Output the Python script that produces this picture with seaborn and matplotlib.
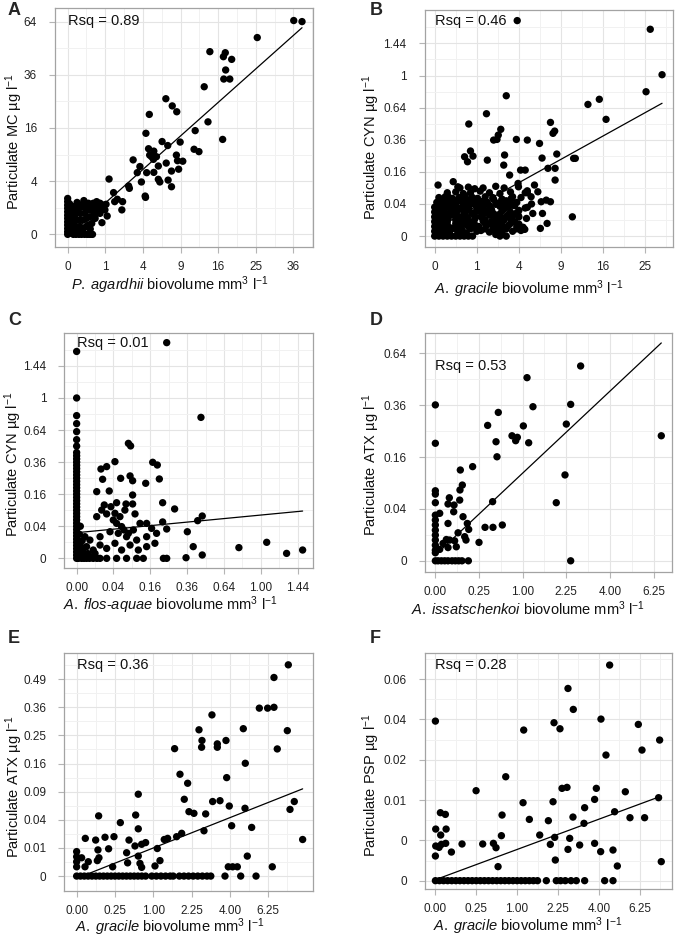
import numpy as np
import pandas as pd
import matplotlib
matplotlib.use("Agg")
import matplotlib.pyplot as plt
import seaborn as sns

sns.set_style("white")
plt.rcParams["font.family"] = ["Liberation Sans", "DejaVu Sans"]
plt.rcParams["mathtext.fontset"] = "custom"
plt.rcParams["mathtext.rm"] = "Liberation Sans"
plt.rcParams["mathtext.it"] = "Liberation Sans:italic"

# all values are square-root transformed, as plotted; tick labels show raw units

# Panel A: P. agardhii biovolume vs particulate MC
a_x = [6.01, 6.23, 5.04, 3.78, 4.14, 4.19, 4.36, 4.20, 4.15, 4.31, 3.63, 2.61, 2.78, 2.90, 2.17,
       3.73, 3.39, 4.12, 2.08, 2.51, 2.66, 2.99, 3.36, 3.49, 2.15, 2.29, 2.18, 2.23, 2.28, 2.36,
       2.41, 2.89, 2.92, 3.06, 2.95, 2.62, 2.76, 2.67, 2.76, 2.10, 2.29, 1.74, 1.92, 1.85, 1.96,
       2.41, 2.45, 2.06, 2.07, 1.62, 1.64, 1.10, 1.22, 1.32, 1.25, 1.46, 1.44, 0.90, 0.99, 0.86,
       1.05, 0.91, 0.43,
       0, 0, 0, 0, 0, 0, 0, 0, 0, 0, 0, 0, 0.05, 0.06, 0.05, 0.07,
       0.11, 0.13, 0.09, 0.15, 0.12, 0.14, 0.19, 0.24, 0.28, 0.22, 0.20, 0.26, 0.18,
       0.33, 0.37, 0.32, 0.35, 0.30, 0.42, 0.46, 0.49, 0.52, 0.40, 0.45, 0.50,
       0.58, 0.59, 0.59, 0.64, 0.66, 0.55, 0.60, 0.55,
       0.68, 0.70, 0.73, 0.77, 0.80, 0.81, 0.86, 0.86, 0.95, 1.02, 0.77, 0.62, 0.57, 0.45, 0.30,
       0.10, 0.25, 0.38, 0.70]
a_y = [8.04, 8.00, 7.40, 6.87, 6.68, 6.83, 6.58, 6.18, 5.84, 5.84, 5.55, 5.10, 4.83, 4.61, 4.51,
       4.23, 3.90, 3.57, 3.80, 3.49, 3.34, 3.47, 3.20, 3.11, 3.22, 3.13, 2.98, 2.92, 2.82, 2.92,
       2.57, 2.98, 2.77, 2.75, 2.45, 2.68, 2.38, 2.04, 1.79, 2.32, 2.33, 2.80, 2.55, 2.32, 1.97,
       2.07, 1.97, 1.44, 1.39, 1.82, 1.73, 2.08, 1.57, 1.32, 1.23, 1.23, 0.92, 1.04, 0.92, 0.79,
       0.69, 0.44, 1.27,
       1.35, 1.23, 1.10, 0.98, 0.85, 0.72, 0.60, 0.47, 0.35, 0.22, 0.10, 0, 1.15, 0.80, 0.40, 0.05,
       0.92, 0.66, 0.41, 0, 1.05, 0.20, 1.04, 0.54, 0.16, 0, 0.75, 0.90, 0.35,
       0.79, 0, 0.30, 0.55, 1.00, 0.54, 0.79, 0.29, 0, 0.15, 1.00, 0.60,
       1.04, 0.66, 0.92, 0.41, 0, 1.17, 0.20, 0.35,
       1.17, 0.79, 0.60, 1.23, 0.98, 1.17, 1.17, 0.98, 1.10, 1.13, 0.79, 0, 0, 0, 0,
       0.55, 1.20, 1.12, 0.95]
a_fit = [-0.08, 1.26]  # intercept, slope
a_rsq = "0.89"

# Panel B: A. gracile biovolume vs particulate CYN
b_x = [1.96, 5.12, 5.40, 5.02, 3.91, 3.64, 4.07, 1.70, 1.23, 0.81, 2.75, 2.85, 2.81, 1.57, 1.51,
       1.48, 1.40, 1.94, 2.20, 2.49, 2.90, 2.55, 3.30, 3.34, 2.69, 2.86, 2.86, 0.91, 0.85, 0.71,
       0.78, 1.25, 1.66, 1.64, 2.04, 2.15, 2.37, 1.98, 1.78, 1.99, 2.20, 2.15, 1.82, 1.70, 2.53,
       2.56, 2.75, 2.51, 2.67, 3.27, 2.20, 2.14, 1.70, 0.08, 0.44, 0.32, 0.55, 2.29, 2.45, 2.65,
       2.33, 2.18,
       0, 0.1, 0.2, 0.3, 0.4, 0.5, 0.6, 0.7, 0.8, 0.9, 1.45, 1.55,
       0, 0.07, 0.15, 0.25, 0.35, 0.55, 0.75, 1.0, 1.1, 1.3, 1.45, 1.6, 1.85, 2.05,
       0, 0.05, 0.12, 0.22, 0.4, 0.6, 0.8, 0.9, 1.05, 1.25, 1.4, 1.55, 1.75, 1.95, 2.1,
       0, 0.1, 0.2, 0.3, 0.5, 0.7, 0.85, 1.15, 1.35, 1.5, 1.65, 1.9,
       0, 0.06, 0.18, 0.28, 0.45, 0.62, 0.78, 0.95, 1.1, 1.3, 1.45, 1.7, 1.85, 2.0,
       0, 0.1, 0.25, 0.38, 0.55, 0.7, 0.88, 1.05, 1.2, 1.4, 1.6, 1.8, 1.95,
       0, 0.08, 0.2, 0.35, 0.5, 0.65, 0.8, 1.0, 1.15, 1.3, 1.55, 1.75, 1.9, 2.15,
       0.05, 0.15, 0.3, 0.45, 0.6, 0.75, 0.92, 1.1, 1.25, 1.5, 1.7, 1.95, 2.3,
       0.1, 0.25, 0.42, 0.58, 0.72, 0.9, 1.02, 1.2, 1.38, 1.6, 1.85, 2.05,
       0.3, 0.5, 0.68, 0.85, 1.08, 1.3, 1.55, 1.8, 2.2,
       0.6, 0.8, 0.95, 1.15, 1.45, 1.65,
       0.03, 0.18, 0.33, 0.48, 0.65, 0.85, 1.2, 1.38, 1.7, 1.95,
       0.02, 0.14, 0.32, 0.6, 0.95, 1.2, 1.6, 1.8,
       0.04, 0.22, 0.45, 0.8, 1.0, 1.35, 1.65, 2.0,
       0.12, 0.3, 0.5, 0.7, 0.95, 1.2, 1.4, 1.6, 1.8, 2.0,
       0.15, 0.35, 0.52, 0.72, 0.9, 1.15, 1.35, 1.55, 1.75, 1.98,
       0.12, 0.28, 0.48, 0.68, 0.85, 1.05, 1.3, 1.45, 1.65, 1.85,
       0.2, 0.38, 0.52, 0.68, 0.85, 1.0, 1.18, 1.4, 1.6, 1.8]
b_y = [1.342, 1.288, 1.005, 0.899, 0.852, 0.820, 0.727, 0.874, 0.762, 0.698, 0.708, 0.654, 0.640,
       0.665, 0.629, 0.602, 0.598, 0.602, 0.598, 0.577, 0.511, 0.486, 0.484, 0.484, 0.422, 0.422,
       0.349, 0.498, 0.530, 0.494, 0.463, 0.473, 0.505, 0.442, 0.411, 0.411, 0.318, 0.328, 0.380,
       0.307, 0.282, 0.270, 0.235, 0.204, 0.214, 0.141, 0.214, 0.048, 0.079, 0.120, 0.179, 0.042,
       0, 0.318, 0.339, 0.245, 0.307, 0.245, 0.276, 0.224, 0.141, 0.110,
       0, 0, 0, 0, 0, 0, 0, 0, 0, 0, 0.01, 0.0,
       0.03, 0.02, 0.035, 0.03, 0.025, 0.03, 0.02, 0.03, 0.035, 0.025, 0.03, 0.02, 0.03, 0.035,
       0.06, 0.055, 0.065, 0.06, 0.05, 0.065, 0.06, 0.055, 0.06, 0.07, 0.06, 0.05, 0.065, 0.06, 0.055,
       0.09, 0.095, 0.085, 0.09, 0.1, 0.09, 0.085, 0.095, 0.09, 0.085, 0.1, 0.09,
       0.12, 0.125, 0.115, 0.12, 0.13, 0.12, 0.115, 0.125, 0.12, 0.13, 0.115, 0.12, 0.125, 0.12,
       0.15, 0.155, 0.145, 0.15, 0.16, 0.15, 0.145, 0.155, 0.15, 0.14, 0.155, 0.15, 0.145,
       0.18, 0.175, 0.185, 0.18, 0.19, 0.18, 0.175, 0.185, 0.18, 0.17, 0.185, 0.18, 0.19, 0.175,
       0.21, 0.215, 0.205, 0.21, 0.22, 0.21, 0.2, 0.215, 0.21, 0.205, 0.22, 0.21, 0.2,
       0.24, 0.245, 0.235, 0.24, 0.25, 0.24, 0.235, 0.245, 0.24, 0.23, 0.245, 0.24,
       0.27, 0.275, 0.265, 0.27, 0.28, 0.27, 0.265, 0.275, 0.27,
       0.3, 0.305, 0.295, 0.3, 0.31, 0.3,
       0.045, 0.045, 0.04, 0.045, 0.04, 0.045, 0.045, 0.04, 0.045, 0.045,
       0.105, 0.105, 0.11, 0.105, 0.105, 0.1, 0.105, 0.11,
       0.165, 0.165, 0.17, 0.165, 0.165, 0.165, 0.17, 0.16,
       0.075, 0.07, 0.078, 0.075, 0.072, 0.078, 0.075, 0.07, 0.078, 0.075,
       0.135, 0.138, 0.132, 0.135, 0.14, 0.135, 0.13, 0.138, 0.135, 0.132,
       0.195, 0.198, 0.192, 0.195, 0.2, 0.195, 0.19, 0.198, 0.195, 0.192,
       0.225, 0.228, 0.222, 0.225, 0.23, 0.225, 0.22, 0.228, 0.225, 0.222]
b_fit = [0.042, 0.1454]
b_rsq = "0.46"

# Panel C: A. flos-aquae biovolume vs particulate CYN
c_x = [0, 0, 0, 0, 0, 0, 0, 0, 0, 0, 0, 0, 0, 0, 0, 0, 0, 0, 0, 0, 0,
       0, 0, 0, 0, 0, 0, 0, 0, 0, 0, 0, 0, 0, 0, 0, 0, 0, 0, 0, 0,
       0.489, 0.675, 0.281, 0.293, 0.208, 0.163, 0.132, 0.413, 0.438, 0.375, 0.449, 0.239, 0.290,
       0.304, 0.141, 0.109, 0.177, 0.217, 0.268, 0.304, 0.150, 0.186, 0.304, 0.467, 0.532, 0.682,
       0.657, 0.467, 0.489, 0.601, 0.633, 0.682, 0.881, 1.032, 1.140, 1.227, 0.594,
       0.027, 0.054, 0.090, 0.127, 0.163, 0.217, 0.271, 0.326, 0.362, 0.471, 0.489,
       0.01, 0.04, 0.07, 0.11,
       0.109, 0.136, 0.163, 0.208, 0.235, 0.262, 0.317, 0.344, 0.380, 0.407, 0.434, 0.380, 0.326,
       0.271, 0.226, 0.181, 0.127, 0.072, 0.054, 0.090, 0.127, 0.163, 0.208, 0.244, 0.290, 0.335,
       0.380, 0.425, 0.045, 0.033, 0.036, 0.199, 0.217, 0.244, 0.257, 0.281, 0.308,
       0.015, 0.02, 0.03, 0.015, 0.06, 0.08, 0.1, 0.02]
c_y = [0, 0.02, 0.04, 0.06, 0.08, 0.10, 0.12, 0.14, 0.16, 0.18, 0.20, 0.22, 0.24, 0.26, 0.28,
       0.30, 0.32, 0.34, 0.36, 0.38, 0.40, 0.42, 0.44, 0.46, 0.48, 0.50, 0.52, 0.54, 0.56, 0.58,
       0.60, 0.62, 0.64, 0.66, 0.70, 0.74, 0.79, 0.84, 0.89, 1.00, 1.29,
       1.345, 0.879, 0.717, 0.701, 0.603, 0.572, 0.557, 0.599, 0.582, 0.468, 0.495, 0.499, 0.514,
       0.484, 0.493, 0.416, 0.420, 0.347, 0.339, 0.339, 0.333, 0.322, 0.395, 0.347, 0.308, 0.264,
       0.235, 0.227, 0.183, 0.166, 0.073, 0.021, 0.067, 0.100, 0.031, 0.052, 0.004,
       0, 0, 0, 0, 0, 0, 0, 0, 0, 0, 0,
       0, 0, 0, 0,
       0.260, 0.301, 0.277, 0.281, 0.260, 0.301, 0.277, 0.218, 0.218, 0.187, 0.156, 0.135, 0.114,
       0.135, 0.156, 0.166, 0.135, 0.114, 0.073, 0.052, 0.083, 0.062, 0.094, 0.052, 0.083, 0.052,
       0.073, 0.094, 0.135, 0.052, 0.021, 0.239, 0.218, 0.198, 0.177, 0.156, 0.177,
       0.03, 0.08, 0.11, 0.15, 0.03, 0.01, 0.03, 0.2]
c_fit = [0.16, 0.110]
c_rsq = "0.01"

# Panel D: A. issatschenkoi biovolume vs particulate ATX
d_x = [0, 0, 1.664, 1.050, 1.118, 1.550, 0.721, 0.599, 1.008, 1.500, 0.878, 0.939, 0.920, 0.695,
       1.069, 0.706, 2.588, 0.427, 0.286, 1.485, 0.309, 0.282, 0, 0, 0, 0.160, 0.145, 0.214,
       0.656, 1.385, 0.279, 0.210, 0.050, 0.317, 0, 0, 0, 0, 0, 0, 0, 0, 0,
       0.145, 0.366, 0.382, 0.569, 0.660, 0.767, 0.260, 0.336, 0.351, 0.126, 0.164, 0.221, 0.145,
       0.240, 0.500, 0.088, 0.050,
       0, 0.031, 0.069, 0.107, 0.145, 0.191, 0.229, 0.267, 0.305, 0.378, 1.550]
d_y = [0.601, 0.453, 0.751, 0.706, 0.594, 0.603, 0.572, 0.522, 0.520, 0.527, 0.482, 0.476, 0.463,
       0.459, 0.455, 0.401, 0.482, 0.363, 0.350, 0.331, 0.292, 0.273, 0.270, 0.257, 0.224, 0.243,
       0.219, 0.215, 0.228, 0.224, 0.234, 0.189, 0.183, 0.170, 0.176, 0.157, 0.138, 0.118, 0.099,
       0.080, 0.060, 0.041, 0.031,
       0.144, 0.144, 0.121, 0.129, 0.129, 0.138, 0.108, 0.093, 0.080, 0.082, 0.080, 0.077, 0.051,
       0.054, 0.071, 0.067, 0.044,
       0, 0, 0, 0, 0, 0, 0, 0, 0, 0, 0]
d_fit = [0.022, 0.316]
d_rsq = "0.53"

# Panel E: A. gracile biovolume vs particulate ATX
e_x = [2.761, 2.574, 2.491, 2.574, 2.383, 1.765, 1.596, 2.748, 1.635, 1.630, 2.174, 1.835, 1.835,
       1.948, 2.617, 1.278, 2.200, 1.348, 1.957, 1.448, 0.804, 1.404, 1.774, 1.870, 1.991, 2.196,
       2.839, 2.783, 1.465, 1.530, 1.683, 0.770, 0.287, 0.570, 2.022, 2.283, 0.804, 1.661, 1.370,
       1.187, 1.143, 1.304, 0.113, 0.370, 0.248, 0.487, 0.683, 2.948, 0.278, 0.417, 0.652, 0.761,
       0.848, 0.900, 1.052, 0.291, 0.270, 0.470, 0.665, 0.804, 0.826, 0.848, 1.022, 1.087, 2.226,
       1.978, 2.035, 2.096, 2.552, 0.065, 0.152, 0, 0, 0, 0, 0.109,
       0, 0.05, 0.1, 0.15, 0.2, 0.25, 0.3, 0.35, 0.4, 0.45, 0.5, 0.55, 0.6, 0.65, 0.7, 0.75, 0.8,
       0.85, 0.9, 0.98, 1.04, 1.1, 1.16, 1.22, 1.26, 1.34, 1.40, 1.46, 1.52, 1.58, 1.64, 1.70,
       1.75, 1.935, 2.14, 2.34]
e_y = [0.751, 0.706, 0.597, 0.600, 0.597, 0.573, 0.520, 0.517, 0.482, 0.458, 0.524, 0.470, 0.458,
       0.482, 0.452, 0.453, 0.401, 0.362, 0.350, 0.330, 0.291, 0.273, 0.265, 0.268, 0.249, 0.241,
       0.265, 0.237, 0.229, 0.223, 0.221, 0.217, 0.214, 0.190, 0.179, 0.173, 0.168, 0.161, 0.152,
       0.134, 0.130, 0.140, 0.134, 0.138, 0.128, 0.140, 0.128, 0.130, 0.093, 0.097, 0.083, 0.107,
       0.113, 0.119, 0.098, 0.065, 0.055, 0.033, 0.047, 0.071, 0.045, 0.031, 0.036, 0.055, 0.071,
       0.033, 0.033, 0.033, 0.033, 0.065, 0.051, 0.087, 0.069, 0.051, 0.033, 0.033,
       0, 0, 0, 0, 0, 0, 0, 0, 0, 0, 0, 0, 0, 0, 0, 0, 0,
       0, 0, 0, 0, 0, 0, 0, 0, 0, 0, 0, 0, 0, 0, 0,
       0, 0, 0, 0]
e_fit = [-0.008, 0.1079]
e_rsq = "0.36"

# Panel F: A. gracile biovolume vs particulate PSP
f_x = [2.133, 1.623, 1.688, 0, 1.081, 1.452, 1.525, 2.027, 2.484, 2.745, 2.529, 2.088, 0.861,
       0.498, 1.550, 1.611, 1.970, 2.325, 2.732, 1.949, 1.073, 1.440, 0.004, 0.061, 0.122, 0.065,
       0.131, 0.816, 1.150, 1.383, 1.684, 1.819, 2.382, 2.561, 1.277, 0.808, 0.004, 0.045, 0.073,
       0.126, 0.196, 0.326, 0.579, 0.710, 0.742, 0.767, 1.407, 1.460, 1.468, 1.623, 1.644, 1.766,
       1.827, 1.949, 2.023, 2.174, 2.227, 2.194, 2.765, 0,
       0, 0.05, 0.1, 0.15, 0.2, 0.25, 0.3, 0.35, 0.4, 0.45, 0.5, 0.55, 0.6, 0.65, 0.7, 0.75, 0.8,
       0.85, 0.9, 0.95, 1.0, 1.05, 1.1, 1.15, 1.2, 1.25, 1.358, 1.48, 1.533, 1.59, 1.66, 1.725,
       1.827, 2.072, 2.174]
f_y = [0.2674, 0.2384, 0.2124, 0.1979, 0.1868, 0.1959, 0.1884, 0.2004, 0.1938, 0.1744, 0.1620,
       0.1558, 0.1289, 0.1116, 0.1145, 0.1157, 0.1145, 0.1103, 0.1029, 0.1008, 0.0967, 0.0979,
       0.0640, 0.0843, 0.0822, 0.0566, 0.0640, 0.0814, 0.0760, 0.0744, 0.0789, 0.0711, 0.0781,
       0.0781, 0.0566, 0.0558, 0.0430, 0.0413, 0.0450, 0.0463, 0.0355, 0.0455, 0.0455, 0.0463,
       0.0409, 0.0174, 0.0450, 0.0537, 0.0256, 0.0388, 0.0525, 0.0442, 0.0905, 0.0463, 0.0360,
       0.0380, 0.0182, 0.0855, 0.0236, 0.0306,
       0, 0, 0, 0, 0, 0, 0, 0, 0, 0, 0, 0, 0, 0, 0, 0, 0, 0, 0, 0, 0, 0, 0, 0, 0, 0,
       0, 0, 0, 0, 0, 0, 0, 0, 0]
f_fit = [0.0012, 0.0375]
f_rsq = "0.28"

# tick values (raw units) and labels
a_xticks = [0, 1, 4, 9, 16, 25, 36]
a_xlabels = ["0", "1", "4", "9", "16", "25", "36"]
a_yticks = [0, 4, 16, 36, 64]
a_ylabels = ["0", "4", "16", "36", "64"]
b_xticks = [0, 1, 4, 9, 16, 25]
b_xlabels = ["0", "1", "4", "9", "16", "25"]
cyn_yticks = [0, 0.04, 0.16, 0.36, 0.64, 1, 1.44]
cyn_ylabels = ["0", "0.04", "0.16", "0.36", "0.64", "1", "1.44"]
c_xticks = [0, 0.04, 0.16, 0.36, 0.64, 1, 1.44]
c_xlabels = ["0.00", "0.04", "0.16", "0.36", "0.64", "1.00", "1.44"]
bv_xticks = [0, 0.25, 1, 2.25, 4, 6.25]
bv_xlabels = ["0.00", "0.25", "1.00", "2.25", "4.00", "6.25"]
d_yticks = [0, 0.04, 0.16, 0.36, 0.64]
d_ylabels = ["0", "0.04", "0.16", "0.36", "0.64"]
e_yticks = [0, 0.01, 0.04, 0.09, 0.16, 0.25, 0.36, 0.49]
e_ylabels = ["0", "0.01", "0.04", "0.09", "0.16", "0.25", "0.36", "0.49"]
f_yticks = [0, 0.0025, 0.01, 0.0225, 0.04, 0.0625]
f_ylabels = ["0", "0", "0.01", "0.02", "0.04", "0.06"]

W, H = 677, 938
fig = plt.figure(figsize=(W / 100, H / 100), dpi=100)

GRID = "#e4e4e4"
GRID_MINOR = "#f1f1f1"
FRAME = "#a3a3a3"


def unit(s):
    return s + r" biovolume mm$^{3}$ l$^{-1}$"


def panel(box, letter_xy, letter, x, y, fit, rsq, xt, xtl, yt, ytl, xlim, ylim, xlab, ylab,
          xlab_pos, ylab_pos):
    left, top, right, bottom = box
    ax = fig.add_axes([left / W, 1 - bottom / H, (right - left) / W, (bottom - top) / H])
    df = pd.DataFrame({"x": x, "y": y})
    sns.scatterplot(data=df, x="x", y="y", ax=ax, color="black", s=28,
                    linewidth=0, edgecolor="none", zorder=3)
    xs = np.array([df["x"].min(), df["x"].max()])
    ax.plot(xs, fit[0] + fit[1] * xs, color="black", lw=0.9, zorder=4)

    ax.set_xlim(*xlim)
    ax.set_ylim(*ylim)
    xpos = np.sqrt(xt)
    ypos = np.sqrt(yt)
    ax.set_xticks(xpos, xtl)
    ax.set_yticks(ypos, ytl)
    # minor gridlines halfway between majors
    xm = xpos[:-1] + np.diff(xpos) / 2
    xm = np.append(xm, xpos[-1] + np.diff(xpos)[-1] / 2)
    ym = ypos[:-1] + np.diff(ypos) / 2
    ym = np.append(ym, ypos[-1] + np.diff(ypos)[-1] / 2)
    ax.set_xticks(xm[xm < xlim[1]], minor=True)
    ax.set_yticks(ym[ym < ylim[1]], minor=True)
    ax.grid(True, which="major", color=GRID, lw=0.8, zorder=0)
    ax.grid(True, which="minor", color=GRID_MINOR, lw=0.7, zorder=0)
    ax.set_axisbelow(True)
    ax.tick_params(which="major", length=4.5, width=0.8, color="#b5b5b5",
                   labelsize=8.5, labelcolor="#222222", bottom=True, left=True)
    ax.tick_params(axis="x", pad=5.5)
    ax.tick_params(axis="y", pad=8.5)
    ax.tick_params(which="minor", length=0)
    for sp in ax.spines.values():
        sp.set_color(FRAME)
        sp.set_linewidth(0.9)

    ax.set_xlabel(xlab, fontsize=10.5, va="center", color="#111111")
    ax.set_ylabel(ylab, fontsize=10.5, va="center", color="#111111")
    ax.xaxis.set_label_coords(xlab_pos[0], -xlab_pos[1] / (bottom - top))
    ax.yaxis.set_label_coords(-ylab_pos[0] / (right - left), ylab_pos[1])

    ax.text(0, df["y"].max(), "Rsq = " + rsq, fontsize=10.5, ha="left", va="center",
            color="#111111", zorder=5)
    fig.text(letter_xy[0] / W, 1 - letter_xy[1] / H, letter,
             fontsize=13, fontweight="bold", ha="left", va="top")
    return ax


ylab_cyn = r"Particulate CYN µg l$^{-1}$"
ylab_atx = r"Particulate ATX µg l$^{-1}$"
gracile = r"$\mathit{A.\;gracile}$"

panel((55, 8.3, 313.3, 246.7), (8, 2), "A", a_x, a_y, a_fit, a_rsq, a_xticks, a_xlabels,
      a_yticks, a_ylabels, (-0.337, 6.53), (-0.464, 8.50),
      unit(r"$\mathit{P.\;agardhii}$"), r"Particulate MC µg l$^{-1}$",
      (0.443, 39), (41, 0.44))
panel((424.7, 10, 673, 246.7), (370, 2), "B", b_x, b_y, b_fit, b_rsq, b_xticks, b_xlabels,
      cyn_yticks, cyn_ylabels, (-0.237, 5.66), (-0.066, 1.408),
      unit(gracile), ylab_cyn, (0.42, 42), (54, 0.42))
panel((64.3, 332.7, 313.3, 568.3), (8, 312), "C", c_x, c_y, c_fit, c_rsq, c_xticks, c_xlabels,
      cyn_yticks, cyn_ylabels, (-0.067, 1.285), (-0.062, 1.407),
      unit(r"$\mathit{A.\;flos}$-$\mathit{aquae}$"), ylab_cyn, (0.424, 37), (51, 0.44))
panel((424.7, 333.3, 672.3, 571.7), (370, 312), "D", d_x, d_y, d_fit, d_rsq, bv_xticks, bv_xlabels,
      d_yticks, d_ylabels, (-0.122, 2.714), (-0.042, 0.877),
      unit(r"$\mathit{A.\;issatschenkoi}$"), ylab_atx, (0.417, 36.5), (53, 0.45))
panel((64.3, 653.3, 313.3, 890.7), (8, 630), "E", e_x, e_y, e_fit, e_rsq, bv_xticks, bv_xlabels,
      e_yticks, e_ylabels, (-0.161, 3.087), (-0.052, 0.792),
      unit(gracile), ylab_atx, (0.424, 36.5), (50, 0.44))
panel((424.7, 653.3, 672.3, 889.3), (370, 630), "F", f_x, f_y, f_fit, f_rsq, bv_xticks, bv_xlabels,
      f_yticks, f_ylabels, (-0.131, 2.90), (-0.0107, 0.282),
      unit(gracile), r"Particulate PSP µg l$^{-1}$", (0.417, 37), (53, 0.44))

fig.savefig("out.png", dpi=100, facecolor="white")
